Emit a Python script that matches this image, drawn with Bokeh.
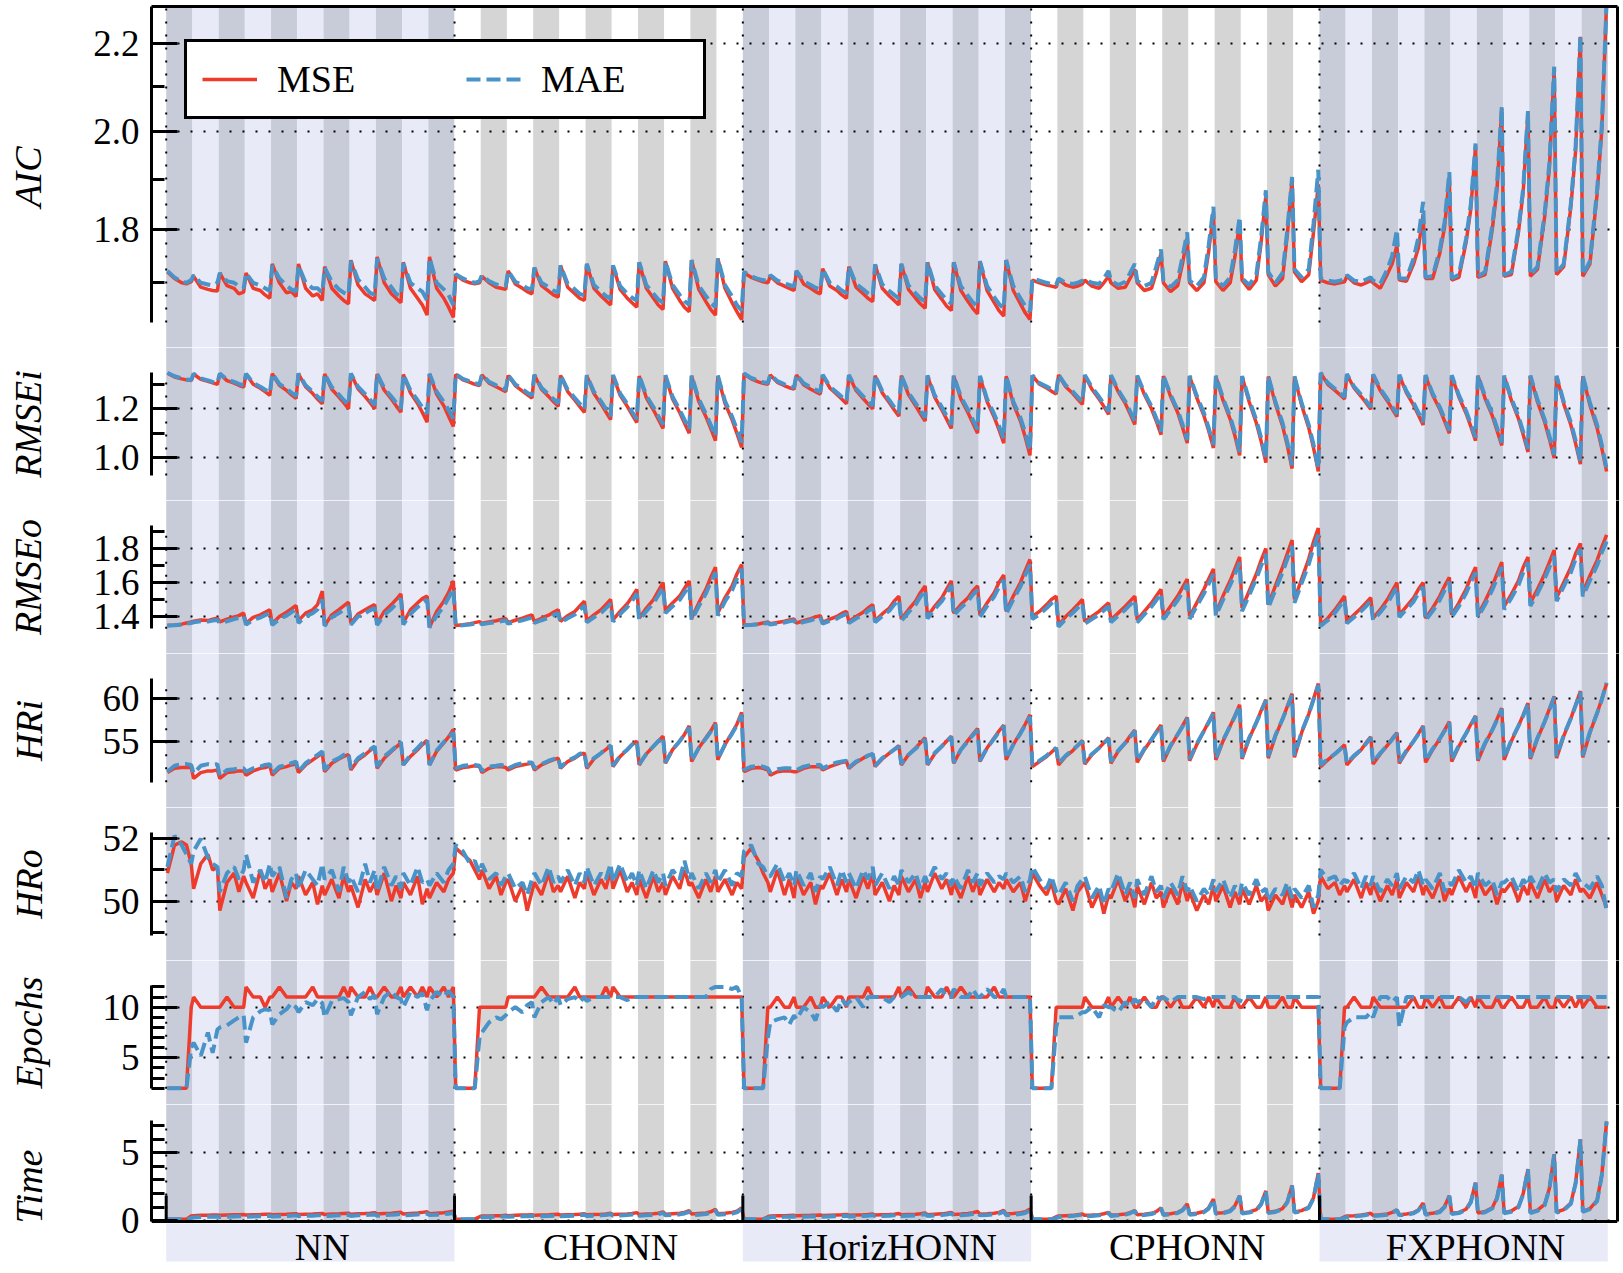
from bokeh.plotting import figure
from bokeh.models import Range1d, FixedTicker, LinearAxis, PrintfTickFormatter, Legend, LegendItem, Span
from bokeh.layouts import column
from bokeh.embed import file_html
from bokeh.resources import INLINE
from bokeh.core.properties import value

# ---------------- data ----------------
groups = ["NN", "CHONN", "HorizHONN", "CPHONN", "FXPHONN"]
stripes_per_group = 11
configs_per_stripe = 11
sampled_configs = [0, 3, 6, 8, 10]   # configurations read per stripe

aic_mse = [
 1.720,1.708,1.700,1.698,1.702, 1.712,1.692,1.688,1.686,1.685, 1.718,1.695,1.690,1.680,1.683, 1.718,1.690,1.686,1.678,1.672, 1.735,1.700,1.682,1.684,1.675, 1.735,1.690,1.676,1.680,1.668, 1.730,1.690,1.676,1.668,1.662, 1.742,1.696,1.680,1.674,1.668, 1.748,1.700,1.680,1.672,1.664, 1.738,1.690,1.672,1.660,1.642, 1.748,1.690,1.672,1.656,1.638,
 1.715,1.705,1.700,1.698,1.700, 1.712,1.700,1.692,1.690,1.688, 1.722,1.698,1.690,1.684,1.680, 1.728,1.695,1.685,1.678,1.674, 1.732,1.692,1.680,1.672,1.668, 1.735,1.690,1.676,1.668,1.660, 1.732,1.688,1.672,1.664,1.656, 1.738,1.690,1.672,1.660,1.652, 1.740,1.690,1.668,1.656,1.648, 1.742,1.688,1.666,1.652,1.642, 1.745,1.690,1.664,1.648,1.634,
 1.718,1.710,1.705,1.702,1.700, 1.712,1.700,1.694,1.690,1.686, 1.722,1.698,1.690,1.684,1.680, 1.726,1.694,1.686,1.678,1.672, 1.730,1.692,1.680,1.672,1.666, 1.734,1.690,1.676,1.668,1.660, 1.735,1.688,1.672,1.662,1.654, 1.738,1.688,1.670,1.658,1.650, 1.738,1.686,1.666,1.654,1.644, 1.740,1.686,1.664,1.650,1.640, 1.742,1.686,1.662,1.646,1.634,
 1.705,1.700,1.696,1.694,1.692, 1.706,1.696,1.692,1.694,1.698, 1.705,1.694,1.690,1.700,1.712, 1.700,1.690,1.692,1.708,1.725, 1.700,1.686,1.690,1.718,1.755, 1.700,1.684,1.695,1.735,1.785, 1.700,1.686,1.700,1.758,1.835, 1.702,1.686,1.700,1.748,1.815, 1.705,1.688,1.705,1.775,1.868, 1.715,1.694,1.708,1.790,1.900, 1.720,1.702,1.715,1.795,1.890,
 1.705,1.700,1.698,1.700,1.702, 1.712,1.700,1.696,1.700,1.704, 1.700,1.690,1.716,1.735,1.770, 1.705,1.703,1.735,1.765,1.830, 1.708,1.708,1.755,1.805,1.905, 1.705,1.710,1.775,1.840,1.970, 1.710,1.715,1.800,1.880,2.050, 1.712,1.715,1.795,1.875,2.040, 1.712,1.725,1.825,1.925,2.140, 1.715,1.730,1.845,1.960,2.215, 1.712,1.735,1.870,2.005,2.300,
]
aic_mae = [
 1.722,1.710,1.702,1.700,1.705, 1.714,1.700,1.697,1.695,1.700, 1.718,1.703,1.700,1.694,1.690, 1.718,1.700,1.695,1.690,1.685, 1.732,1.708,1.695,1.688,1.684, 1.732,1.700,1.690,1.690,1.682, 1.728,1.702,1.688,1.682,1.678, 1.740,1.706,1.692,1.682,1.678, 1.745,1.708,1.692,1.680,1.676, 1.736,1.700,1.690,1.684,1.668, 1.746,1.700,1.688,1.678,1.660,
 1.716,1.708,1.703,1.700,1.703, 1.714,1.703,1.697,1.695,1.694, 1.722,1.702,1.696,1.690,1.688, 1.728,1.700,1.692,1.686,1.682, 1.732,1.698,1.688,1.680,1.677, 1.735,1.696,1.684,1.676,1.671, 1.732,1.694,1.680,1.673,1.668, 1.738,1.696,1.680,1.670,1.664, 1.740,1.696,1.678,1.667,1.660, 1.742,1.695,1.676,1.664,1.656, 1.745,1.696,1.675,1.660,1.650,
 1.720,1.712,1.707,1.705,1.704, 1.714,1.704,1.699,1.696,1.693, 1.722,1.703,1.696,1.691,1.688, 1.726,1.700,1.693,1.686,1.681, 1.730,1.698,1.688,1.681,1.676, 1.734,1.697,1.685,1.678,1.671, 1.735,1.695,1.681,1.672,1.666, 1.738,1.695,1.679,1.669,1.662, 1.738,1.694,1.676,1.665,1.657, 1.740,1.694,1.674,1.662,1.653, 1.742,1.694,1.672,1.658,1.648,
 1.708,1.704,1.700,1.698,1.696, 1.708,1.700,1.698,1.700,1.704, 1.706,1.700,1.698,1.708,1.722, 1.704,1.696,1.702,1.718,1.735, 1.704,1.694,1.700,1.730,1.762, 1.704,1.692,1.705,1.748,1.795, 1.704,1.694,1.710,1.770,1.845, 1.706,1.694,1.710,1.760,1.825, 1.708,1.696,1.715,1.785,1.878, 1.720,1.700,1.718,1.800,1.905, 1.725,1.710,1.725,1.812,1.920,
 1.708,1.704,1.702,1.704,1.706, 1.714,1.704,1.702,1.706,1.710, 1.704,1.698,1.725,1.750,1.800, 1.708,1.708,1.745,1.785,1.855, 1.710,1.712,1.762,1.815,1.915, 1.708,1.715,1.782,1.850,1.975, 1.712,1.720,1.808,1.890,2.055, 1.714,1.720,1.802,1.882,2.045, 1.714,1.730,1.832,1.935,2.145, 1.718,1.735,1.852,1.970,2.220, 1.714,1.740,1.878,2.015,2.300,
]
rmsei_mse = [
 1.345,1.330,1.322,1.318,1.315, 1.342,1.320,1.312,1.306,1.300, 1.343,1.315,1.305,1.296,1.288, 1.342,1.300,1.284,1.270,1.255, 1.343,1.296,1.275,1.258,1.242, 1.343,1.290,1.262,1.240,1.220, 1.342,1.280,1.248,1.225,1.200, 1.343,1.282,1.250,1.226,1.200, 1.342,1.276,1.240,1.212,1.186, 1.340,1.265,1.222,1.185,1.145, 1.342,1.260,1.212,1.170,1.128,
 1.340,1.318,1.308,1.300,1.295, 1.338,1.305,1.290,1.280,1.270, 1.336,1.295,1.272,1.258,1.244, 1.338,1.280,1.250,1.230,1.210, 1.336,1.270,1.235,1.210,1.185, 1.335,1.262,1.220,1.188,1.156, 1.336,1.255,1.210,1.176,1.144, 1.334,1.245,1.195,1.158,1.120, 1.335,1.240,1.185,1.142,1.100, 1.334,1.230,1.168,1.120,1.070, 1.334,1.222,1.155,1.100,1.042,
 1.342,1.322,1.310,1.304,1.300, 1.338,1.308,1.294,1.286,1.280, 1.338,1.298,1.280,1.270,1.260, 1.337,1.285,1.258,1.240,1.220, 1.336,1.275,1.242,1.220,1.200, 1.335,1.265,1.225,1.196,1.170, 1.335,1.258,1.212,1.180,1.150, 1.334,1.248,1.196,1.158,1.120, 1.334,1.240,1.184,1.142,1.100, 1.333,1.230,1.165,1.115,1.060, 1.333,1.220,1.150,1.085,1.010,
 1.335,1.300,1.285,1.272,1.260, 1.338,1.290,1.262,1.240,1.218, 1.336,1.280,1.240,1.210,1.177, 1.335,1.270,1.222,1.180,1.136, 1.334,1.258,1.200,1.150,1.094, 1.334,1.250,1.185,1.125,1.060, 1.333,1.245,1.172,1.110,1.040, 1.333,1.235,1.158,1.090,1.010, 1.332,1.228,1.142,1.068,0.980, 1.332,1.220,1.130,1.050,0.956, 1.331,1.215,1.122,1.040,0.944,
 1.345,1.300,1.275,1.258,1.240, 1.340,1.285,1.250,1.225,1.198, 1.338,1.275,1.232,1.200,1.168, 1.337,1.265,1.215,1.175,1.134, 1.336,1.255,1.198,1.150,1.100, 1.335,1.248,1.182,1.128,1.070, 1.335,1.242,1.172,1.112,1.050, 1.334,1.235,1.160,1.094,1.024, 1.334,1.228,1.146,1.076,0.999, 1.333,1.220,1.134,1.058,0.974, 1.333,1.215,1.122,1.038,0.944,
]
rmsei_mae = [
 1.347,1.333,1.325,1.320,1.318, 1.343,1.324,1.316,1.310,1.306, 1.344,1.320,1.310,1.302,1.295, 1.343,1.305,1.290,1.278,1.265, 1.344,1.302,1.282,1.266,1.252, 1.344,1.296,1.270,1.250,1.232, 1.343,1.288,1.258,1.236,1.215, 1.344,1.290,1.260,1.238,1.215, 1.343,1.284,1.250,1.225,1.200, 1.341,1.275,1.235,1.205,1.180, 1.343,1.270,1.228,1.195,1.160,
 1.342,1.322,1.312,1.305,1.300, 1.340,1.310,1.296,1.287,1.278, 1.338,1.300,1.280,1.266,1.254, 1.339,1.286,1.258,1.240,1.222, 1.338,1.277,1.244,1.221,1.198, 1.337,1.270,1.230,1.200,1.170, 1.338,1.263,1.220,1.188,1.158, 1.336,1.254,1.206,1.171,1.136, 1.337,1.249,1.196,1.156,1.116, 1.336,1.240,1.180,1.135,1.088, 1.336,1.232,1.168,1.116,1.062,
 1.344,1.326,1.315,1.309,1.305, 1.340,1.313,1.300,1.292,1.287, 1.340,1.304,1.287,1.278,1.269, 1.339,1.291,1.266,1.249,1.231, 1.338,1.282,1.251,1.230,1.212, 1.337,1.272,1.235,1.207,1.183, 1.337,1.266,1.223,1.192,1.164, 1.336,1.256,1.207,1.171,1.135, 1.336,1.249,1.196,1.156,1.116, 1.335,1.240,1.178,1.130,1.078, 1.335,1.230,1.164,1.102,1.030,
 1.337,1.305,1.291,1.279,1.268, 1.340,1.296,1.270,1.249,1.228, 1.338,1.287,1.249,1.220,1.188, 1.337,1.277,1.231,1.191,1.148, 1.336,1.266,1.210,1.162,1.107, 1.336,1.258,1.195,1.137,1.073, 1.335,1.253,1.183,1.122,1.053, 1.335,1.244,1.169,1.103,1.024, 1.334,1.237,1.154,1.082,0.995, 1.334,1.229,1.142,1.064,0.970, 1.333,1.224,1.134,1.054,0.956,
 1.347,1.306,1.282,1.266,1.248, 1.342,1.291,1.258,1.233,1.207, 1.340,1.282,1.240,1.209,1.178, 1.339,1.272,1.224,1.185,1.145, 1.338,1.263,1.207,1.160,1.111, 1.337,1.256,1.192,1.139,1.082, 1.337,1.250,1.182,1.123,1.062, 1.336,1.243,1.170,1.106,1.037, 1.336,1.237,1.157,1.089,1.012, 1.335,1.229,1.145,1.071,0.987, 1.335,1.225,1.134,1.052,0.955,
]
rmseo_mse = [
 1.348,1.350,1.355,1.362,1.368, 1.372,1.380,1.376,1.384,1.390, 1.368,1.385,1.398,1.405,1.420, 1.360,1.395,1.410,1.425,1.440, 1.358,1.400,1.425,1.445,1.465, 1.376,1.420,1.440,1.470,1.550, 1.347,1.410,1.440,1.462,1.484, 1.360,1.415,1.440,1.455,1.470, 1.358,1.430,1.470,1.500,1.533, 1.362,1.440,1.480,1.505,1.520, 1.337,1.430,1.490,1.540,1.610,
 1.347,1.352,1.358,1.364,1.370, 1.360,1.368,1.375,1.382,1.388, 1.365,1.378,1.390,1.400,1.410, 1.370,1.390,1.408,1.425,1.440, 1.372,1.405,1.430,1.460,1.490, 1.375,1.410,1.440,1.470,1.500, 1.380,1.430,1.475,1.515,1.560, 1.390,1.450,1.500,1.550,1.600, 1.435,1.480,1.520,1.565,1.610, 1.390,1.480,1.560,1.630,1.690, 1.420,1.510,1.580,1.650,1.705,
 1.350,1.352,1.356,1.362,1.368, 1.358,1.365,1.372,1.380,1.385, 1.362,1.375,1.388,1.398,1.405, 1.366,1.385,1.400,1.418,1.430, 1.370,1.400,1.425,1.450,1.470, 1.375,1.415,1.450,1.490,1.520, 1.385,1.440,1.490,1.540,1.580, 1.400,1.460,1.510,1.560,1.610, 1.420,1.470,1.510,1.550,1.580, 1.410,1.480,1.540,1.600,1.644, 1.430,1.520,1.600,1.670,1.735,
 1.400,1.430,1.470,1.500,1.520, 1.350,1.400,1.440,1.470,1.500, 1.370,1.400,1.430,1.455,1.480, 1.380,1.420,1.460,1.490,1.520, 1.380,1.430,1.480,1.520,1.560, 1.400,1.460,1.520,1.570,1.620, 1.400,1.480,1.560,1.620,1.680, 1.420,1.520,1.610,1.680,1.750, 1.450,1.550,1.650,1.730,1.800, 1.470,1.580,1.690,1.770,1.850, 1.500,1.620,1.740,1.840,1.920,
 1.350,1.390,1.440,1.480,1.520, 1.370,1.410,1.450,1.480,1.510, 1.390,1.440,1.500,1.550,1.600, 1.410,1.460,1.510,1.560,1.600, 1.390,1.450,1.520,1.580,1.630, 1.410,1.480,1.560,1.630,1.690, 1.410,1.490,1.580,1.650,1.720, 1.460,1.530,1.610,1.690,1.750, 1.480,1.560,1.650,1.720,1.790, 1.510,1.600,1.690,1.770,1.830, 1.540,1.640,1.730,1.810,1.880,
]
rmseo_mae = [
 1.346,1.348,1.352,1.358,1.362, 1.366,1.372,1.370,1.376,1.380, 1.360,1.372,1.385,1.392,1.402, 1.352,1.380,1.394,1.408,1.420, 1.350,1.385,1.405,1.425,1.442, 1.362,1.400,1.420,1.442,1.500, 1.345,1.395,1.420,1.440,1.460, 1.352,1.400,1.420,1.436,1.450, 1.350,1.410,1.445,1.475,1.505, 1.352,1.415,1.455,1.480,1.500, 1.335,1.405,1.460,1.510,1.565,
 1.345,1.348,1.353,1.358,1.362, 1.355,1.361,1.366,1.372,1.376, 1.358,1.368,1.378,1.386,1.394, 1.362,1.378,1.393,1.408,1.420, 1.364,1.390,1.412,1.438,1.465, 1.366,1.395,1.422,1.448,1.476, 1.370,1.414,1.455,1.492,1.535, 1.378,1.432,1.478,1.524,1.572, 1.420,1.460,1.498,1.540,1.585, 1.378,1.460,1.535,1.602,1.660, 1.405,1.488,1.555,1.622,1.680,
 1.348,1.350,1.353,1.358,1.362, 1.353,1.359,1.365,1.372,1.376, 1.356,1.367,1.378,1.387,1.393, 1.358,1.375,1.388,1.404,1.415, 1.362,1.388,1.410,1.432,1.452, 1.366,1.402,1.434,1.470,1.498, 1.374,1.424,1.470,1.516,1.555, 1.388,1.444,1.490,1.536,1.584, 1.406,1.452,1.490,1.528,1.556, 1.398,1.462,1.518,1.574,1.616, 1.416,1.500,1.576,1.644,1.706,
 1.385,1.412,1.450,1.478,1.498, 1.340,1.385,1.422,1.450,1.478, 1.358,1.385,1.412,1.436,1.460, 1.366,1.404,1.440,1.468,1.498, 1.366,1.412,1.458,1.496,1.536, 1.384,1.440,1.496,1.544,1.592, 1.386,1.460,1.535,1.592,1.650, 1.404,1.498,1.584,1.650,1.718, 1.432,1.526,1.622,1.698,1.768, 1.452,1.556,1.660,1.738,1.815, 1.480,1.596,1.708,1.804,1.880,
 1.345,1.378,1.422,1.460,1.498, 1.360,1.396,1.432,1.460,1.490, 1.378,1.424,1.478,1.526,1.574, 1.396,1.442,1.488,1.536,1.574, 1.378,1.432,1.498,1.554,1.604, 1.396,1.460,1.536,1.602,1.660, 1.396,1.470,1.556,1.622,1.690, 1.442,1.508,1.584,1.660,1.718, 1.462,1.536,1.622,1.690,1.756, 1.490,1.576,1.660,1.738,1.796, 1.518,1.612,1.700,1.778,1.842,
]
hri_mse = [
 51.3,51.8,51.9,51.9,51.9, 50.6,51.3,51.5,51.5,51.6, 50.6,51.3,51.4,51.5,51.5, 51.0,51.5,51.8,51.9,52.1, 51.0,51.8,52.0,52.2,52.3, 51.3,52.2,52.8,53.2,53.6, 51.4,52.4,52.9,53.2,53.4, 51.6,52.8,53.4,53.9,54.3, 51.8,53.0,53.8,54.3,54.8, 52.2,53.2,54.0,54.6,55.1, 52.2,53.8,54.8,55.5,56.4,
 51.6,51.9,52.0,52.1,52.0, 51.3,51.8,52.0,52.0,51.9, 51.6,52.0,52.2,52.3,52.4, 51.6,52.2,52.6,52.8,53.0, 51.8,52.6,53.0,53.4,53.6, 51.8,52.9,53.6,54.0,54.5, 52.0,53.2,54.0,54.6,55.0, 52.2,53.5,54.4,55.0,55.6, 52.4,54.0,55.0,55.8,56.8, 52.6,54.2,55.4,56.2,57.2, 52.8,54.6,56.0,57.0,58.4,
 51.4,51.8,51.9,51.8,51.6, 51.0,51.4,51.5,51.5,51.4, 51.4,51.8,52.0,52.0,52.0, 51.6,52.0,52.3,52.5,52.6, 51.8,52.5,53.0,53.3,53.5, 52.0,52.9,53.6,54.0,54.5, 52.2,53.4,54.2,54.8,55.4, 52.2,53.5,54.4,55.0,55.6, 52.4,54.0,55.1,55.8,56.5, 52.6,54.2,55.4,56.2,56.9, 52.8,54.6,56.0,57.0,58.1,
 52.0,52.6,53.2,53.7,54.2, 52.2,53.2,53.9,54.5,55.1, 52.3,53.4,54.2,54.8,55.4, 52.4,53.8,54.8,55.6,56.3, 52.5,54.0,55.2,56.1,56.9, 52.6,54.4,55.8,56.8,57.8, 52.7,54.6,56.2,57.3,58.4, 52.8,55.0,56.8,58.0,59.3, 52.9,55.3,57.2,58.6,59.9, 53.0,55.6,57.6,59.1,60.6, 53.1,56.0,58.2,60.0,61.8,
 52.0,52.8,53.5,54.0,54.6, 52.2,53.2,54.0,54.8,55.5, 52.3,53.5,54.5,55.3,56.0, 52.4,53.8,55.0,55.9,56.8, 52.5,54.0,55.3,56.3,57.3, 52.6,54.4,55.9,57.0,58.0, 52.7,54.7,56.3,57.6,58.9, 52.8,55.0,56.8,58.1,59.5, 52.9,55.3,57.3,58.8,60.3, 53.0,55.6,57.7,59.3,60.9, 53.1,56.0,58.3,60.0,61.8,
]
hri_mae = [
 51.4,52.1,52.3,52.3,52.2, 51.2,52.1,52.3,52.2,52.3, 50.9,51.6,51.7,51.8,51.8, 51.4,51.8,52.0,52.2,52.3, 51.2,52.0,52.2,52.4,52.6, 51.4,52.4,53.0,53.4,53.8, 51.6,52.6,53.0,53.4,53.6, 51.8,53.0,53.6,54.0,54.4, 52.0,53.2,53.9,54.4,54.9, 52.2,53.4,54.2,54.8,55.2, 52.2,53.9,54.9,55.5,56.0,
 51.8,52.1,52.2,52.2,52.1, 51.5,52.0,52.1,52.2,52.1, 51.8,52.2,52.4,52.5,52.5, 51.8,52.3,52.7,52.9,53.1, 51.9,52.7,53.1,53.5,53.7, 52.0,53.0,53.6,54.1,54.5, 52.1,53.3,54.0,54.6,55.0, 52.3,53.5,54.4,55.0,55.5, 52.5,54.0,55.0,55.8,56.6, 52.7,54.2,55.3,56.1,57.0, 52.9,54.6,55.9,56.9,58.1,
 51.6,52.0,52.1,52.0,51.8, 51.3,51.7,51.8,51.8,51.7, 51.6,52.0,52.2,52.2,52.2, 51.8,52.2,52.5,52.6,52.7, 51.9,52.6,53.0,53.3,53.5, 52.1,53.0,53.6,54.0,54.4, 52.3,53.4,54.1,54.7,55.2, 52.3,53.6,54.4,55.0,55.5, 52.5,54.0,55.0,55.7,56.3, 52.7,54.2,55.3,56.1,56.8, 52.9,54.6,55.9,56.9,57.9,
 52.2,52.7,53.3,53.8,54.2, 52.4,53.3,54.0,54.5,55.0, 52.5,53.5,54.2,54.8,55.3, 52.6,53.9,54.8,55.5,56.2, 52.7,54.1,55.2,56.0,56.8, 52.8,54.5,55.8,56.7,57.7, 52.9,54.7,56.2,57.2,58.3, 53.0,55.1,56.8,57.9,59.2, 53.1,55.4,57.2,58.5,59.8, 53.2,55.7,57.6,59.0,60.4, 53.3,56.1,58.2,59.9,61.6,
 52.2,52.9,53.5,54.0,54.5, 52.4,53.3,54.0,54.7,55.4, 52.5,53.6,54.5,55.2,55.9, 52.6,53.9,55.0,55.8,56.7, 52.7,54.1,55.3,56.2,57.2, 52.8,54.5,55.9,56.9,57.9, 52.9,54.8,56.3,57.5,58.8, 53.0,55.1,56.8,58.0,59.4, 53.1,55.4,57.3,58.7,60.2, 53.2,55.7,57.7,59.2,60.8, 53.3,56.1,58.3,59.9,61.9,
]
hro_mse = [
 50.9,51.8,51.9,51.8,51.2, 50.4,51.2,51.5,51.0,51.1, 49.7,50.6,50.9,50.3,50.8, 50.6,50.1,51.0,50.4,50.7, 50.3,50.9,50.0,50.6,50.4, 50.8,50.2,50.6,49.9,50.5, 50.2,50.7,50.1,50.8,50.3, 50.5,49.8,50.7,50.3,50.6, 50.2,50.9,50.0,50.5,50.1, 50.6,50.2,50.8,49.9,50.4, 50.1,50.6,50.3,50.7,50.9,
 51.7,51.5,51.3,51.0,50.7, 51.0,50.4,50.8,50.2,50.6, 50.7,50.0,50.5,49.7,50.3, 50.6,50.2,50.9,50.3,50.5, 50.3,50.8,50.1,50.6,50.4, 50.9,50.2,50.7,50.4,51.0, 50.4,51.0,50.3,50.6,50.2, 50.7,50.1,50.8,50.3,50.6, 50.2,50.8,50.4,51.0,50.5, 50.6,50.1,50.7,50.3,50.8, 50.3,50.7,50.2,50.6,50.4,
 51.4,51.7,51.3,50.9,50.6, 50.3,51.0,50.2,50.7,50.1, 50.8,50.2,50.6,49.9,50.5, 50.4,50.9,50.2,50.7,50.3, 50.7,50.1,50.8,50.4,50.9, 50.2,50.6,50.0,50.5,50.2, 50.8,50.3,50.7,50.1,50.6, 50.3,50.9,50.4,50.7,50.2, 50.6,50.1,50.8,50.3,50.7, 50.2,50.7,50.3,50.6,50.4, 50.7,50.3,50.6,50.0,50.5,
 50.9,50.5,50.2,50.6,50.0, 49.9,50.4,49.7,50.3,50.5, 50.6,49.8,50.3,49.6,50.2, 50.1,50.7,50.0,50.4,49.8, 50.5,49.9,50.6,50.1,50.3, 49.8,50.4,49.9,50.6,50.0, 50.3,49.7,50.2,49.9,50.5, 50.0,50.5,49.8,50.3,49.9, 50.4,49.9,50.5,50.0,50.2, 49.7,50.2,49.9,50.4,49.8, 50.2,49.8,50.3,49.6,50.0,
 50.8,50.4,50.6,50.2,50.5, 50.3,50.7,50.1,50.6,50.2, 50.6,50.0,50.5,50.2,50.7, 50.1,50.6,50.3,50.8,50.2, 50.5,50.1,50.7,50.0,50.4, 50.2,50.8,50.3,50.6,50.1, 50.7,50.2,50.5,49.9,50.4, 50.3,50.6,50.0,50.5,50.2, 50.6,50.1,50.7,50.3,50.5, 50.0,50.5,50.2,50.7,50.3, 50.4,50.1,50.6,50.2,49.8,
]
hro_mae = [
 51.1,52.1,51.8,51.5,51.2, 51.6,52.0,51.4,51.2,51.1, 50.3,50.9,51.1,50.7,51.0, 51.5,50.6,51.0,50.6,51.2, 50.8,51.1,50.1,50.7,50.9, 50.4,51.0,50.7,50.5,51.2, 50.7,51.0,50.3,51.1,50.6, 50.8,50.3,51.2,50.6,51.0, 50.3,51.1,50.5,50.8,50.4, 50.9,50.5,51.1,50.6,50.7, 50.5,50.9,50.6,51.0,51.2,
 51.8,51.6,51.2,51.3,50.9, 51.2,50.7,50.9,50.5,50.8, 50.9,50.4,50.6,50.2,50.7, 50.9,50.5,51.1,50.6,50.8, 50.6,51.0,50.5,50.9,50.6, 51.1,50.5,50.9,50.7,51.2, 50.6,51.2,50.6,50.9,50.5, 51.0,50.4,51.0,50.6,50.9, 50.5,51.0,50.7,51.3,50.7, 50.9,50.4,50.9,50.6,51.0, 50.6,51.0,50.5,50.9,50.8,
 51.6,51.8,51.2,51.1,50.8, 50.8,51.2,50.6,50.9,50.5, 51.0,50.5,50.9,50.3,50.8, 50.7,51.1,50.5,51.0,50.6, 50.9,50.4,51.0,50.7,51.1, 50.5,50.9,50.4,50.8,50.5, 51.0,50.6,50.9,50.4,50.8, 50.6,51.1,50.7,50.9,50.5, 50.8,50.4,51.0,50.6,50.9, 50.5,50.9,50.6,50.8,50.7, 50.9,50.6,50.8,50.3,50.7,
 51.1,50.7,50.4,50.8,50.3, 50.2,50.6,50.0,50.5,50.7, 50.8,50.1,50.5,49.9,50.4, 50.3,50.9,50.2,50.6,50.1, 50.7,50.2,50.8,50.3,50.5, 50.1,50.6,50.2,50.8,50.3, 50.5,50.0,50.4,50.2,50.7, 50.3,50.7,50.1,50.5,50.2, 50.6,50.2,50.7,50.3,50.4, 50.0,50.4,50.2,50.6,50.1, 50.4,50.1,50.5,49.8,50.2,
 51.0,50.7,50.8,50.5,50.7, 50.6,50.9,50.4,50.8,50.5, 50.8,50.3,50.7,50.5,50.9, 50.4,50.8,50.6,51.0,50.5, 50.7,50.4,50.9,50.3,50.6, 50.5,51.0,50.6,50.8,50.4, 50.9,50.5,50.7,50.2,50.6, 50.6,50.8,50.3,50.7,50.5, 50.8,50.4,50.9,50.6,50.7, 50.3,50.7,50.5,50.9,50.6, 50.6,50.4,50.8,50.5,49.7,
]
epochs_mse = [
 2,2,2,2,10, 11,10,10,10,10, 10,11,10,10,10, 12,11,11,10,11, 11,12,11,11,11, 11,11,12,11,11, 11,11,11,12,11, 12,11,11,12,11, 11,12,11,11,12, 11,12,11,12,11, 12,11,12,11,12,
 2,2,2,2,10, 10,10,10,10,10, 11,11,11,11,11, 11,12,11,11,11, 11,11,12,11,11, 11,11,11,12,11, 12,11,11,11,11, 11,11,11,11,11, 11,11,11,11,11, 11,11,11,11,11, 11,11,11,11,11,
 2,2,2,2,10, 10,11,10,10,11, 10,10,11,10,10, 11,10,11,11,10, 11,11,11,12,11, 11,11,11,11,12, 11,12,11,11,11, 12,11,11,12,11, 11,12,11,11,11, 11,11,12,11,11, 11,11,11,11,11,
 2,2,2,2,10, 10,10,10,10,10, 11,10,10,10,11, 10,11,10,11,10, 10,11,10,10,11, 11,10,11,10,10, 10,11,10,11,10, 11,10,10,11,10, 10,11,10,10,11, 10,10,11,10,10, 11,10,10,10,10,
 2,2,2,2,10, 10,11,10,10,10, 11,10,10,10,10, 10,10,11,10,10, 11,10,11,10,10, 10,11,10,11,10, 11,10,10,11,10, 10,11,10,10,11, 10,10,11,10,10, 11,10,11,10,11, 10,11,10,10,10,
]
epochs_mae = [
 2,2,2,2,6, 6.5,5.2,7.5,5.5,7.8, 8.0,8.2,8.7,9.0,9.2, 6.5,9.0,9.6,9.8,9.7, 8.3,9.3,9.8,10.4,10.0, 9.5,10.5,10.2,10.8,10.4, 9.0,10.6,10.8,10.9,10.5, 9.2,11.0,11.5,10.8,11.2, 9.3,11.0,11.6,11.0,10.8, 10.0,11.5,11.0,11.4,9.7, 10.6,11.5,11.0,11.6,11.0,
 2,2,2,2,7, 7.5,8.5,9.0,8.8,9.2, 9.5,10.0,9.5,10.2,10.5, 9.0,10.5,11.0,10.3,11.0, 10.2,10.8,11.0,10.5,11.0, 10.6,11.0,11.0,11.0,11.0, 11.0,11.0,10.7,11.0,11.0, 11,11,11,11,11, 11,11,11,11,11, 11,11,11,11.8,12, 12,12,11.8,12,11,
 2,2,2,2,7, 8.5,8.8,9.0,8.3,9.2, 8.8,10.0,9.5,8.7,10.2, 10.0,10.5,9.6,10.8,10.2, 10.5,11,10,11,11, 11,11,10.5,11,11, 11,11.5,11,11,11, 11,11,11.8,11,11, 11.8,11,11,11.8,11, 11,11.8,11,11,11.8, 11,11,11,11,11,
 2,2,2,2,8, 9,9,9,9.2,9.5, 9.5,10.0,9.0,10.2,10, 10,9.5,10.5,10,10.8, 10.5,10.8,10,11,10.8, 11,10.5,11,11,11, 11,11,10.8,11,11, 11,11,11,11,10.5, 11,11,11,11,11, 11,11,11,11,11, 11,11,11,11,11,
 2,2,2,2,8, 8.5,9,9,9,9.5, 9,11,11,10.5,11, 8,11,11,11,11, 11,11,11,11,11, 11,11,10.5,11,11, 11,11,11,11,11, 11,11,11,11,11, 11,11,11,11,11, 11,11,11,11,11, 11,11,11,11,11,
]
time_mse = [
 0.12,0.12,0.12,0.12,0.35, 0.38,0.40,0.40,0.42,0.42, 0.40,0.42,0.44,0.44,0.46, 0.42,0.44,0.46,0.48,0.48, 0.44,0.46,0.48,0.50,0.52, 0.46,0.48,0.50,0.52,0.54, 0.46,0.50,0.52,0.54,0.56, 0.48,0.52,0.54,0.56,0.60, 0.50,0.54,0.56,0.60,0.62, 0.50,0.54,0.58,0.62,0.66, 0.52,0.56,0.60,0.64,0.70,
 0.12,0.12,0.12,0.12,0.30, 0.35,0.36,0.38,0.38,0.40, 0.38,0.40,0.42,0.42,0.44, 0.40,0.42,0.44,0.46,0.48, 0.42,0.44,0.46,0.48,0.52, 0.44,0.46,0.48,0.50,0.56, 0.46,0.48,0.50,0.54,0.60, 0.46,0.50,0.52,0.56,0.66, 0.48,0.52,0.56,0.62,0.74, 0.50,0.54,0.58,0.66,0.84, 0.52,0.56,0.62,0.70,0.95,
 0.12,0.12,0.12,0.12,0.30, 0.35,0.37,0.38,0.39,0.40, 0.37,0.39,0.40,0.41,0.43, 0.39,0.41,0.43,0.44,0.46, 0.41,0.43,0.45,0.47,0.50, 0.43,0.45,0.47,0.49,0.53, 0.44,0.47,0.49,0.52,0.57, 0.45,0.48,0.51,0.55,0.62, 0.47,0.50,0.54,0.59,0.68, 0.49,0.52,0.56,0.62,0.76, 0.50,0.54,0.59,0.66,0.86,
 0.12,0.12,0.12,0.12,0.30, 0.35,0.38,0.40,0.45,0.50, 0.40,0.42,0.45,0.52,0.62, 0.42,0.45,0.50,0.60,0.75, 0.45,0.48,0.55,0.68,0.95, 0.48,0.52,0.62,0.80,1.25, 0.50,0.55,0.68,0.95,1.60, 0.55,0.60,0.75,1.10,1.85, 0.58,0.65,0.82,1.25,2.20, 0.62,0.70,0.90,1.40,2.60, 0.65,0.75,1.00,1.70,3.50,
 0.12,0.12,0.12,0.12,0.30, 0.35,0.38,0.42,0.48,0.55, 0.40,0.44,0.50,0.62,0.80, 0.45,0.50,0.60,0.80,1.30, 0.50,0.55,0.70,1.05,1.85, 0.55,0.62,0.85,1.40,2.80, 0.58,0.68,0.95,1.70,3.40, 0.60,0.72,1.05,2.00,3.80, 0.62,0.78,1.20,2.40,4.90, 0.65,0.82,1.30,2.80,6.00, 0.70,0.90,1.50,3.40,7.30,
]
time_mae = [
 0.12,0.12,0.12,0.12,0.20, 0.25,0.28,0.30,0.30,0.32, 0.28,0.30,0.32,0.33,0.34, 0.30,0.32,0.34,0.35,0.36, 0.32,0.34,0.36,0.38,0.40, 0.34,0.36,0.38,0.40,0.42, 0.35,0.38,0.40,0.42,0.44, 0.36,0.40,0.42,0.44,0.47, 0.38,0.42,0.44,0.47,0.50, 0.40,0.43,0.46,0.50,0.53, 0.42,0.45,0.48,0.52,0.57,
 0.12,0.12,0.12,0.12,0.20, 0.26,0.28,0.30,0.31,0.32, 0.29,0.31,0.33,0.34,0.36, 0.31,0.33,0.35,0.37,0.40, 0.33,0.35,0.37,0.40,0.44, 0.35,0.37,0.40,0.42,0.48, 0.37,0.39,0.42,0.46,0.52, 0.38,0.41,0.44,0.48,0.58, 0.40,0.43,0.47,0.54,0.66, 0.42,0.45,0.50,0.58,0.76, 0.44,0.48,0.54,0.62,0.88,
 0.12,0.12,0.12,0.12,0.20, 0.26,0.28,0.29,0.30,0.31, 0.28,0.30,0.31,0.32,0.34, 0.30,0.32,0.34,0.35,0.37, 0.32,0.34,0.36,0.38,0.41, 0.34,0.36,0.38,0.40,0.44, 0.35,0.38,0.40,0.43,0.48, 0.36,0.39,0.42,0.46,0.53, 0.38,0.41,0.45,0.50,0.59, 0.40,0.43,0.47,0.53,0.67, 0.41,0.45,0.50,0.57,0.78,
 0.12,0.12,0.12,0.12,0.20, 0.28,0.32,0.35,0.40,0.46, 0.33,0.36,0.40,0.47,0.58, 0.36,0.40,0.45,0.55,0.72, 0.39,0.43,0.50,0.63,0.92, 0.42,0.47,0.57,0.76,1.22, 0.45,0.50,0.63,0.90,1.58, 0.50,0.55,0.70,1.05,1.82, 0.53,0.60,0.77,1.20,2.18, 0.57,0.65,0.85,1.35,2.58, 0.60,0.70,0.95,1.65,3.45,
 0.12,0.12,0.12,0.12,0.20, 0.28,0.32,0.37,0.43,0.52, 0.34,0.39,0.45,0.58,0.78, 0.40,0.45,0.55,0.76,1.28, 0.45,0.50,0.65,1.00,1.83, 0.50,0.57,0.80,1.35,2.78, 0.53,0.63,0.90,1.65,3.38, 0.55,0.67,1.00,1.95,3.78, 0.57,0.73,1.15,2.35,4.88, 0.60,0.77,1.25,2.75,5.98, 0.65,0.85,1.45,3.35,7.30,
]

# ---------------- styling / layout ----------------
RED = "#ef3b2c"
BLUE = "#4a93c8"
FONT = "'Liberation Serif', 'Times New Roman', Times, serif"
FW = 1466

n_pts = len(groups) * stripes_per_group * len(sampled_configs)
for arr in (aic_mse, aic_mae, rmsei_mse, rmsei_mae, rmseo_mse, rmseo_mae, hri_mse, hri_mae,
            hro_mse, hro_mae, epochs_mse, epochs_mae, time_mse, time_mae):
    assert len(arr) == n_pts, len(arr)

x = [(g * stripes_per_group + s) * configs_per_stripe + j
     for g in range(len(groups)) for s in range(stripes_per_group) for j in sampled_configs]
per_group = stripes_per_group * configs_per_stripe
xr = Range1d(-6.67, 608.57)

stripe_left, stripe_right, stripe_color = [], [], []
for g in range(len(groups)):
    bluish = g % 2 == 0
    for s in range(stripes_per_group):
        k = g * stripes_per_group + s
        stripe_left.append(k * configs_per_stripe - 0.5)
        stripe_right.append(k * configs_per_stripe + configs_per_stripe - 0.5)
        if bluish:
            stripe_color.append("#c8ccd9" if s % 2 == 0 else "#e8ebf7")
        else:
            stripe_color.append("#ffffff" if s % 2 == 0 else "#d5d5d5")
boundaries = [g * per_group - 0.5 for g in range(len(groups))]


def frame_axis(loc_bounds=None):
    a = LinearAxis(ticker=FixedTicker(ticks=[]), axis_line_width=3, major_tick_in=0,
                   major_tick_out=0, minor_tick_in=0, minor_tick_out=0, major_label_standoff=0)
    if loc_bounds is not None:
        a.bounds = loc_bounds
    return a


def make_panel(label, mse, mae, yr, bounds, major, minor, fmt, fh, standoff,
               log=False, top=False, stripe_bottom=None):
    p = figure(frame_width=FW, frame_height=fh, x_range=xr, y_range=Range1d(*yr),
               y_axis_type="log" if log else "linear", x_axis_location=None,
               output_backend="svg", toolbar_location=None,
               min_border_left=151, min_border_right=6,
               min_border_top=3 if top else 0, min_border_bottom=0,
               background_fill_color="white", border_fill_color="white",
               outline_line_color=None)
    sb = yr[0] if stripe_bottom is None else stripe_bottom
    p.quad(left=stripe_left, right=stripe_right, bottom=sb, top=yr[1],
           fill_color=stripe_color, line_color=None, level="image")
    ax = p.yaxis[0]
    t = FixedTicker(ticks=major, minor_ticks=minor)
    ax.ticker = t
    ax.formatter = PrintfTickFormatter(format=fmt)
    ax.bounds = bounds
    ax.axis_line_width = 3
    ax.axis_line_color = "black"
    ax.major_tick_in = 26
    ax.major_tick_out = 0
    ax.major_tick_line_width = 3
    ax.minor_tick_in = 13
    ax.minor_tick_out = 0
    ax.minor_tick_line_width = 3
    ax.major_label_text_font = FONT
    ax.major_label_text_font_size = "37px"
    ax.major_label_text_color = "black"
    ax.major_label_standoff = 12
    ax.axis_label = label
    ax.axis_label_text_font = FONT
    ax.axis_label_text_font_style = "italic"
    ax.axis_label_text_font_size = "38px"
    ax.axis_label_text_color = "black"
    ax.axis_label_standoff = standoff
    for gr in p.xgrid:
        gr.visible = False
    p.ygrid.ticker = t
    p.ygrid.grid_line_color = "black"
    p.ygrid.grid_line_dash = "2 11"
    p.ygrid.grid_line_width = 2
    p.segment(x0=boundaries, y0=[bounds[0]] * len(boundaries), x1=boundaries,
              y1=[bounds[1]] * len(boundaries), line_color="black", line_width=2,
              line_dash="2 11")
    p.add_layout(frame_axis((sb, yr[1]) if stripe_bottom is not None else None), "right")
    if top:
        p.add_layout(frame_axis(), "above")
    r1 = p.line(x, mse, line_color=RED, line_width=3.5)
    r2 = p.line(x, mae, line_color=BLUE, line_width=4, line_dash="14 6")
    return p, r1, r2


p_aic, r1, r2 = make_panel("AIC", aic_mse, aic_mae, (1.5857, 2.2886), (1.6289, 2.2886),
                           [1.8, 2.0, 2.2], [1.7, 1.9, 2.1], "%.1f", 341, 41, log=True, top=True)
legend = Legend(items=[LegendItem(label="MSE", renderers=[r1]), LegendItem(label="MAE", renderers=[r2])],
                location="top_left", orientation="horizontal", margin=33, padding=15,
                spacing=42, label_width=147, glyph_width=55, glyph_height=30, label_standoff=20,
                label_text_font=FONT, label_text_font_size="38px", label_text_color="black",
                border_line_color="black", border_line_width=3, border_line_alpha=1.0,
                background_fill_color="white", background_fill_alpha=1.0)
p_aic.add_layout(legend)

p_ri, _, _ = make_panel("RMSEi", rmsei_mse, rmsei_mae, (0.8257, 1.4502), (0.9278, 1.3494),
                        [1.0, 1.2], [1.1, 1.3], "%.1f", 153, 41)
p_ro, _, _ = make_panel("RMSEo", rmseo_mse, rmseo_mae, (1.1824, 2.0824), (1.3276, 1.9353),
                        [1.4, 1.6, 1.8], [1.5, 1.7, 1.9], "%.1f", 153, 41)
p_hri, _, _ = make_panel("HRi", hri_mse, hri_mae, (47.182, 65.342), (50.165, 62.358),
                         [55, 60], [], "%d", 154, 50)
p_hro, _, _ = make_panel("HRo", hro_mse, hro_mae, (48.099, 53.003), (48.901, 52.212),
                         [50, 52], [49, 51], "%d", 153, 50)
p_ep, _, _ = make_panel("Epochs", epochs_mse, epochs_mae, (0.395, 14.61), (1.945, 12.142),
                        [5, 10], [2, 3, 4, 6, 7, 8, 9, 11, 12], "%d", 144, 50)

# bottom panel: Time, plus the group-name strip under its x axis
T_AXIS = -0.051
p_t, _, _ = make_panel("Time", time_mse, time_mae, (-3.507, 8.551), (T_AXIS, 7.375),
                       [0, 5], [1, 2, 3, 4, 6, 7], "%d", 164, 68, stripe_bottom=T_AXIS)
band_groups = [g for g in range(len(groups)) if g % 2 == 0]
p_t.quad(left=[boundaries[g] for g in band_groups],
         right=[boundaries[g] + per_group for g in band_groups],
         top=-0.198, bottom=-2.993, fill_color="#e8ebf7", line_color=None, level="image")
p_t.add_layout(Span(location=T_AXIS, dimension="width", line_color="black", line_width=3))
p_t.segment(x0=boundaries, y0=[T_AXIS] * len(boundaries), x1=boundaries,
            y1=[1.86] * len(boundaries), line_color="black", line_width=3)
p_t.text(x=[b + per_group / 2 + 5 for b in boundaries], y=[-1.96] * len(groups), text=groups,
         text_align="center", text_baseline="middle", text_font=value(FONT),
         text_font_size="38px", text_color="black")

# thin black edges of the scanned page
top_bar = figure(width=1623, height=3, x_range=Range1d(0, 1623), y_range=Range1d(0, 1),
                 x_axis_location=None, y_axis_location=None, output_backend="svg",
                 toolbar_location=None, min_border=0, outline_line_color=None,
                 background_fill_color="white", border_fill_color="white")
top_bar.grid.visible = False
top_bar.quad(left=0, right=1383, bottom=0, top=1, fill_color="black", line_color=None)

bot_bar = figure(width=1623, height=5, x_range=Range1d(0, 1), y_range=Range1d(0, 1),
                 x_axis_location=None, y_axis_location=None, output_backend="svg",
                 toolbar_location=None, min_border=0, outline_line_color=None,
                 background_fill_color="black", border_fill_color="black")
bot_bar.grid.visible = False

layout = column(top_bar, p_aic, p_ri, p_ro, p_hri, p_hro, p_ep, p_t, bot_bar, spacing=0)
open("out.html", "w").write(file_html(layout, INLINE))
